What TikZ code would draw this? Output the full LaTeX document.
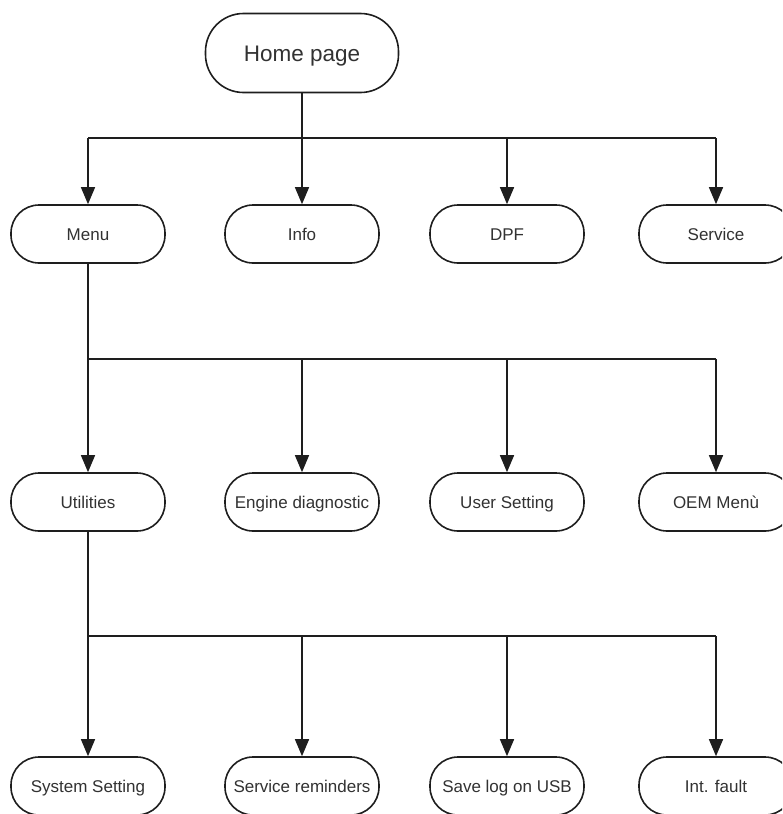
\documentclass[tikz,border=0pt]{standalone}
\usepackage{fontspec}
\setmainfont{Liberation Sans}
\usetikzlibrary{arrows.meta}
\definecolor{txt}{RGB}{50,50,50}
\definecolor{ln}{RGB}{30,30,30}
\begin{document}
\begin{tikzpicture}[x=1pt,y=-1pt,
  box/.style={draw=ln,line width=1.6pt,rounded corners=28pt,minimum width=154pt,minimum height=58pt,
    inner sep=0pt,font=\fontsize{17}{19}\selectfont,text=txt,fill=white,
    text height=12.2pt,text depth=0pt},
  homebox/.style={box,minimum width=193pt,minimum height=79pt,rounded corners=38pt,
    font=\fontsize{22.5}{24}\selectfont,text height=16.1pt},
  bus/.style={draw=ln,line width=2pt},
  arr/.style={draw=ln,line width=1.4pt,-{Triangle[length=17pt,width=14pt]}}]
\useasboundingbox (0,0) rectangle (782,814);
\clip (0,0) rectangle (782,814);
\node[homebox] (home) at (302,53) {Home page};
\node[box] (menu) at (88,234) {Menu};
\node[box] (info) at (302,234) {Info};
\node[box] (dpf) at (507,234) {DPF};
\node[box] (service) at (716,234) {Service};
\node[box] (util) at (88,502) {Utilities};
\node[box] (engine) at (302,502) {Engine diagnostic};
\node[box] (user) at (507,502) {User Setting};
\node[box] (oem) at (716,502) {OEM Menù};
\node[box] (sys) at (88,786) {System Setting};
\node[box] (rem) at (302,786) {Service reminders};
\node[box] (usb) at (507,786) {Save log on USB};
\node[box] (fault) at (716,786) {Int. fault};
\coordinate (b1) at (302,138);
\coordinate (b2) at (88,359);
\coordinate (b3) at (88,636);
% level 1
\draw[bus] (home.south) -- (b1);
\draw[bus] (menu |- b1) -- (service |- b1);
\foreach \n in {menu,info,dpf,service} \draw[arr] (\n |- b1) -- (\n.north);
% level 2
\draw[bus] (menu.south) -- (b2);
\draw[bus] (b2) -- (oem |- b2);
\foreach \n in {util,engine,user,oem} \draw[arr] (\n |- b2) -- (\n.north);
% level 3
\draw[bus] (util.south) -- (b3);
\draw[bus] (b3) -- (fault |- b3);
\foreach \n in {sys,rem,usb,fault} \draw[arr] (\n |- b3) -- (\n.north);
\end{tikzpicture}
\end{document}
